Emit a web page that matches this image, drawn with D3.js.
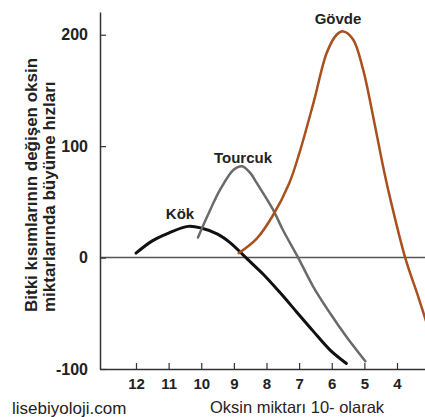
<!DOCTYPE html>
<html>
<head>
<meta charset="utf-8">
<script src="https://cdn.jsdelivr.net/npm/d3@7"></script>
<style>
  body { margin: 0; background: #fff; }
  text { font-family: "Liberation Sans", Arial, sans-serif; }
</style>
</head>
<body>
<div id="content"></div>
<script>
// values: [oksin (x, reversed), growth rate]
let kok = [[12, 4], [11.5, 15], [11, 22], [10.4, 28], [10, 26.5], [9.5, 21], [9.1, 13],
  [8.6, -1], [8.1, -15], [7.6, -31], [7.07, -49], [6.57, -66], [6.05, -83], [5.55, -95]];
let tourcuk = [[10.1, 18], [9.8, 38], [9.4, 62], [9.0, 79], [8.75, 82], [8.5, 76], [8.3, 67],
  [7.8, 43], [7.5, 25], [7.03, 0], [6.57, -26], [6.05, -50], [5.55, -71], [4.97, -93]];
let govde = [[8.85, 4], [8.3, 17], [7.8, 38], [7.3, 67], [7.0, 93], [6.55, 140], [6.15, 184],
  [5.85, 200], [5.65, 203], [5.35, 196], [5.05, 170], [4.7, 122], [4.4, 78], [4.2, 52],
  [3.75, 0], [3.35, -35], [3.1, -58]];

let xTicks = [12, 11, 10, 9, 8, 7, 6, 5, 4];
let yTicks = [200, 100, 0, -100];
let seriesNames = ["Kök", "Tourcuk", "Gövde"];

let width = 425;
let height = 417;
let svg = d3.select("#content").append("svg")
  .attr("width", width)
  .attr("height", height);

let x = d3.scaleLinear().domain([13.103, 3.142]).range([100, 425]);
let y = d3.scaleLinear().domain([-100, 220.4]).range([369, 12]);

// zero line
svg.append("line")
  .attr("x1", 100).attr("x2", 425)
  .attr("y1", y(0)).attr("y2", y(0))
  .style("stroke", "#555").style("stroke-width", 1.5);

// axes
let yAxis = svg.append("g")
  .attr("transform", "translate(100,0)")
  .call(d3.axisLeft(y).tickValues(yTicks).tickFormat(function(d) { return String(d); })
    .tickSizeInner(-6).tickSizeOuter(0).tickPadding(12));
let xAxis = svg.append("g")
  .attr("transform", "translate(0,369)")
  .call(d3.axisBottom(x).tickValues(xTicks).tickFormat(function(d) { return String(d); })
    .tickSizeInner(-6).tickSizeOuter(0).tickPadding(9));

[yAxis, xAxis].forEach(function(g) {
  g.select(".domain").style("stroke", "#333").style("stroke-width", 1.5);
  g.selectAll(".tick line").style("stroke", "#333").style("stroke-width", 1.2);
  g.selectAll(".tick text")
    .style("font-family", "Liberation Sans, Arial, sans-serif")
    .style("font-weight", "bold")
    .style("fill", "#222");
});
yAxis.selectAll(".tick text").style("font-size", "16px");
xAxis.selectAll(".tick text").style("font-size", "15px");

// curves
let line = d3.line()
  .x(function(d) { return x(d[0]); })
  .y(function(d) { return y(d[1]); })
  .curve(d3.curveCatmullRom.alpha(0.5));

let curves = [
  {data: kok, color: "#111", w: 3},
  {data: tourcuk, color: "#6a6a6a", w: 2.5},
  {data: govde, color: "#a9501f", w: 2.5},
];
curves.forEach(function(c) {
  svg.append("path")
    .attr("d", line(c.data))
    .style("fill", "none")
    .style("stroke", c.color)
    .style("stroke-width", c.w)
    .style("stroke-linecap", "round");
});

// series labels
let labelPos = [[180, 219], [243, 163], [338, 24]];
seriesNames.forEach(function(name, i) {
  svg.append("text")
    .attr("x", labelPos[i][0]).attr("y", labelPos[i][1])
    .attr("text-anchor", "middle")
    .style("font-size", "15px").style("font-weight", "bold").style("fill", "#222")
    .text(name);
});

// axis titles
let yTitle = svg.append("text")
  .attr("transform", "translate(37,312) rotate(-90)")
  .style("font-size", "17px").style("font-weight", "bold").style("fill", "#222");
yTitle.append("tspan").attr("x", 0).attr("y", 0).text("Bitki kısımlarının değişen oksin");
yTitle.append("tspan").attr("x", 0).attr("y", 18).text("miktarlarında büyüme hızları");

svg.append("text")
  .attr("x", 297).attr("y", 413)
  .attr("text-anchor", "middle")
  .style("font-size", "16.5px").style("fill", "#2a2226")
  .text("Oksin miktarı 10- olarak");

svg.append("text")
  .attr("x", 12).attr("y", 414)
  .style("font-size", "17px").style("fill", "#222")
  .text("lisebiyoloji.com");
</script>
</body>
</html>
